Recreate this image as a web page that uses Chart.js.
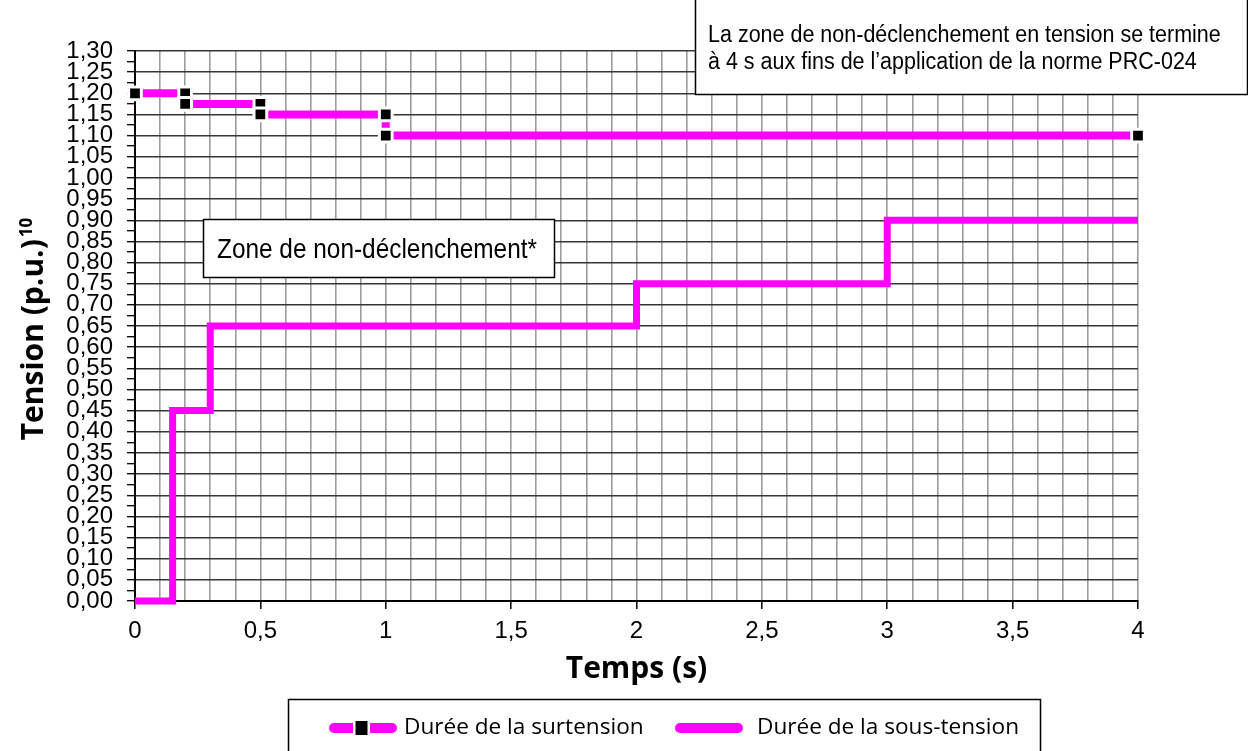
<!DOCTYPE html>
<html lang="fr">
<head>
<meta charset="utf-8">
<title>Zone de non-déclenchement en tension</title>
<script src="https://cdn.jsdelivr.net/npm/chart.js@4.4.1/dist/chart.umd.min.js"></script>
<style>
    html, body { margin: 0; padding: 0; background: #fff; }
    #wrap { width: 1248px; height: 751px; }
</style>
</head>
<body>
<div id="wrap"><canvas id="chartTension" width="1248" height="751"></canvas></div>
<script>
// =========================================================
// DONNÉES
// =========================================================
const surTemps    = [0, 0.2, 0.2, 0.5, 0.5, 1, 1, 4];
const surTension  = [1.20, 1.20, 1.175, 1.175, 1.15, 1.15, 1.10, 1.10];
const sousTemps   = [0, 0.15, 0.15, 0.3, 0.3, 2, 2, 3, 3, 4];
const sousTension = [0, 0, 0.45, 0.45, 0.65, 0.65, 0.75, 0.75, 0.90, 0.90];

const serieLabels = ['Durée de la surtension', 'Durée de la sous-tension'];
const xTickLabels = ['0', '0,5', '1', '1,5', '2', '2,5', '3', '3,5', '4'];
const yTickLabels = ['0,00', '0,05', '0,10', '0,15', '0,20', '0,25', '0,30', '0,35', '0,40',
    '0,45', '0,50', '0,55', '0,60', '0,65', '0,70', '0,75', '0,80', '0,85', '0,90', '0,95',
    '1,00', '1,05', '1,10', '1,15', '1,20', '1,25', '1,30'];

const MAGENTA = '#FF00FF';

const isMajorX = v => Math.round(v * 100) % 50 === 0;   // toutes les 0,5 s
const isMajorY = v => Math.round(v * 1000) % 50 === 0;  // toutes les 0,05 p.u.

// =========================================================
// PLUGIN : titre Y, encadrés de texte et légende
// =========================================================
function stretchedText(ctx, text, x, y, sy) {
    ctx.save();
    ctx.translate(x, y);
    ctx.scale(1, sy);
    ctx.fillText(text, 0, 0);
    ctx.restore();
}

const decor = {
    id: 'decor',
    afterDraw(chart) {
        const ctx = chart.ctx;
        const area = chart.chartArea;
        ctx.save();

        // Titre de l'axe Y avec exposant
        const main = 'Tension (p.u.)';
        const sup = '10';
        ctx.font = 'bold 30px "Open Sans"';
        const wMain = ctx.measureText(main).width;
        ctx.font = 'bold 17px "Open Sans"';
        const wSup = ctx.measureText(sup).width;
        const total = wMain + 2 + wSup;
        ctx.save();
        ctx.translate(43, (area.top + area.bottom) / 2 + 3);
        ctx.rotate(-Math.PI / 2);
        ctx.fillStyle = '#000';
        ctx.textBaseline = 'alphabetic';
        ctx.textAlign = 'left';
        ctx.font = 'bold 30px "Open Sans"';
        ctx.fillText(main, -total / 2, 0);
        ctx.font = 'bold 17px "Open Sans"';
        ctx.fillText(sup, -total / 2 + wMain + 2, -11);
        ctx.restore();

        // Encadré en haut à droite
        ctx.fillStyle = '#fff';
        ctx.strokeStyle = '#000';
        ctx.lineWidth = 1.5;
        ctx.fillRect(695, -2, 552, 96);
        ctx.strokeRect(695.5, -2, 552, 96.5);
        ctx.fillStyle = '#000';
        ctx.textAlign = 'left';
        ctx.textBaseline = 'alphabetic';
        ctx.font = '21.5px "Liberation Sans", Arial, sans-serif';
        stretchedText(ctx, 'La zone de non-déclenchement en tension se termine', 708, 42, 1.12);
        stretchedText(ctx, 'à 4 s aux fins de l\u2019application de la norme PRC-024', 708, 69, 1.12);

        // Encadré "Zone de non-déclenchement*"
        ctx.fillStyle = '#fff';
        ctx.fillRect(203, 219, 351, 58);
        ctx.strokeRect(203.5, 219.5, 351, 58);
        ctx.fillStyle = '#000';
        ctx.font = '24.4px "Liberation Sans", Arial, sans-serif';
        stretchedText(ctx, 'Zone de non-déclenchement*', 217, 258, 1.12);

        // Légende
        ctx.fillStyle = '#fff';
        ctx.fillRect(288, 699, 752, 60);
        ctx.strokeRect(288.5, 699.5, 752, 60);
        const ly = 728;
        ctx.lineCap = 'round';
        ctx.strokeStyle = MAGENTA;
        ctx.lineWidth = 10;
        ctx.beginPath();
        ctx.moveTo(334, ly);
        ctx.lineTo(392, ly);
        ctx.stroke();
        ctx.fillStyle = '#fff';
        ctx.fillRect(353, ly - 9, 17, 18);
        ctx.fillStyle = '#000';
        ctx.fillRect(355.5, ly - 7, 12, 14);
        ctx.beginPath();
        ctx.strokeStyle = MAGENTA;
        ctx.moveTo(680, ly);
        ctx.lineTo(738, ly);
        ctx.stroke();
        ctx.fillStyle = '#000';
        ctx.textBaseline = 'middle';
        ctx.font = '22.6px "Open Sans", sans-serif';
        ctx.fillText(serieLabels[0], 404, ly);
        ctx.fillText(serieLabels[1], 757, ly);

        ctx.restore();
    }
};

// =========================================================
// GRAPHIQUE (CHART.JS)
// =========================================================
const ctxCanvas = document.getElementById('chartTension');

new Chart(ctxCanvas, {
    type: 'line',
    data: {
        datasets: [
            {
                label: serieLabels[1],
                data: sousTemps.map((t, i) => ({ x: t, y: sousTension[i] })),
                borderColor: MAGENTA,
                borderWidth: 7,
                borderJoinStyle: 'miter',
                borderCapStyle: 'butt',
                pointRadius: 0,
                tension: 0,
                clip: false
            },
            {
                label: serieLabels[0],
                data: surTemps.map((t, i) => ({ x: t, y: surTension[i] })),
                borderColor: MAGENTA,
                borderWidth: 8,
                borderJoinStyle: 'miter',
                borderCapStyle: 'butt',
                pointStyle: 'rect',
                pointRadius: 9,
                pointBackgroundColor: '#000',
                pointBorderColor: '#fff',
                pointBorderWidth: 3,
                tension: 0,
                clip: false
            }
        ]
    },
    options: {
        responsive: false,
        animation: false,
        events: [],
        layout: { padding: { left: 0, right: 110, top: 51, bottom: 60 } },
        plugins: {
            legend: { display: false },
            tooltip: { enabled: false }
        },
        scales: {
            x: {
                type: 'linear',
                min: 0,
                max: 4,
                afterFit: scale => { scale.height = 90; },
                border: { color: '#000', width: 2 },
                grid: {
                    color: '#9c9c9c',
                    lineWidth: 1.6,
                    tickLength: 8,
                    tickWidth: 1.5,
                    tickColor: c => (c.tick && isMajorX(c.tick.value)) ? '#000' : 'rgba(0,0,0,0)'
                },
                ticks: {
                    stepSize: 0.1,
                    autoSkip: false,
                    maxRotation: 0,
                    padding: 8,
                    color: '#000',
                    font: { family: '"Liberation Sans", Arial, sans-serif', size: 24 },
                    callback: v => isMajorX(v) ? xTickLabels[Math.round(v / 0.5)] : ''
                },
                title: {
                    display: true,
                    text: 'Temps (s)',
                    color: '#000',
                    padding: { top: 0, bottom: 4 },
                    font: { family: '"Open Sans", sans-serif', size: 30, weight: 'bold' }
                }
            },
            y: {
                min: 0,
                max: 1.3,
                afterFit: scale => { scale.width = 135; },
                border: { color: '#000', width: 2 },
                grid: {
                    color: c => (c.tick && isMajorY(c.tick.value)) ? '#363636' : 'rgba(0,0,0,0)',
                    lineWidth: 1.4,
                    tickLength: 8,
                    tickWidth: 1.3,
                    tickColor: '#000'
                },
                ticks: {
                    stepSize: 0.025,
                    autoSkip: false,
                    padding: 14,
                    color: '#000',
                    font: { family: '"Liberation Sans", Arial, sans-serif', size: 24 },
                    callback: v => isMajorY(v) ? yTickLabels[Math.round(v / 0.05)] : ''
                },
                title: { display: false }
            }
        }
    },
    plugins: [decor]
});
</script>
</body>
</html>
